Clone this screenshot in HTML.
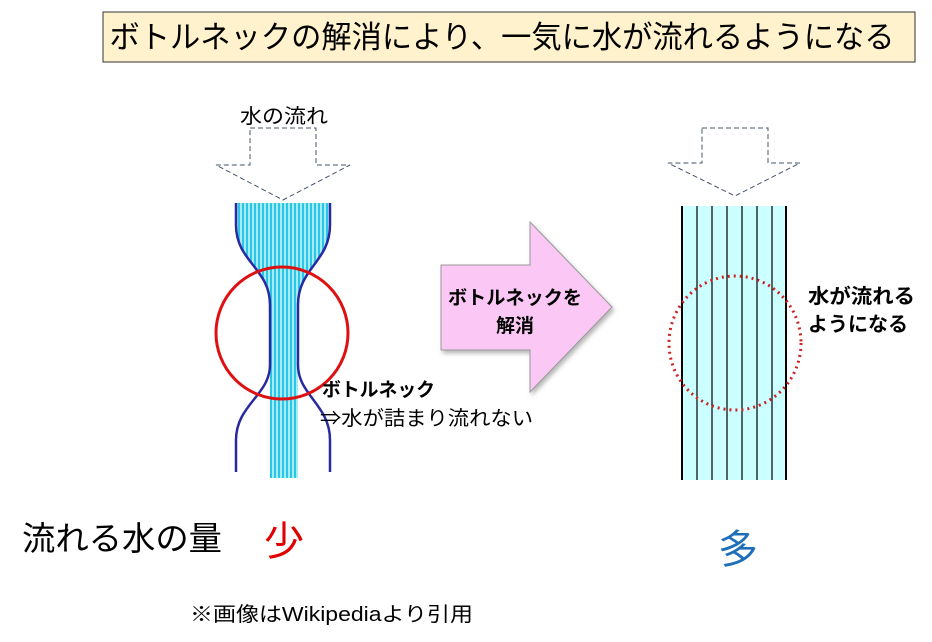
<!DOCTYPE html>
<html><head><meta charset="utf-8"><style>
body{margin:0;background:#fff;width:932px;height:642px;overflow:hidden}
svg{display:block}
text{font-family:"Liberation Sans","Noto Sans CJK JP",sans-serif}
</style></head><body>
<svg width="932" height="642" viewBox="0 0 932 642" xmlns="http://www.w3.org/2000/svg">
<defs>
<pattern id="st" width="4" height="10" patternUnits="userSpaceOnUse">
<rect width="4" height="10" fill="#2bc6e6"/><rect width="2" height="10" fill="#a6ecf7"/>
</pattern>
<filter id="sh" x="-10%" y="-10%" width="130%" height="130%"><feDropShadow dx="2" dy="3" stdDeviation="2" flood-color="#888" flood-opacity="0.6"/></filter>
</defs>
<rect x="103" y="12" width="812" height="50" fill="#fff2cc" stroke="#333" stroke-width="1"/>
<text x="502" y="48" font-size="31" text-anchor="middle" fill="#000" textLength="785" lengthAdjust="spacingAndGlyphs">ボトルネックの解消により、一気に水が流れるようになる</text>

<text x="284" y="123" font-size="20" text-anchor="middle" textLength="88" lengthAdjust="spacingAndGlyphs">水の流れ</text>
<path d="M250,128 H316 V165 H350 L283,200 L216,165 H250 Z" fill="none" stroke="#44546a" stroke-dasharray="5,3" stroke-width="1"/>

<path d="M236,203 H330 V225 C330,262 298,268 298,305 V478 H270 V305 C270,268 236,262 236,225 Z" fill="url(#st)"/>
<path d="M236,203 V225 C236,262 270,268 270,305 V365 C270,395 236,405 236,440 V472" fill="none" stroke="#2a2aa0" stroke-width="2.5"/>
<path d="M330,203 V225 C330,262 298,268 298,305 V365 C298,395 330,405 330,440 V472" fill="none" stroke="#2a2aa0" stroke-width="2.5"/>
<circle cx="282" cy="333" r="66" fill="none" stroke="#dd1111" stroke-width="3"/>
<text x="322" y="396" font-size="19" font-weight="bold" textLength="113" lengthAdjust="spacingAndGlyphs">ボトルネック</text>
<text x="320" y="425" font-size="20" textLength="213" lengthAdjust="spacingAndGlyphs">⇒水が詰まり流れない</text>

<path d="M441,265 H530 V222 L612,307 L530,392 V350 H441 Z" fill="#fbc8f5" stroke="#999" stroke-width="1" filter="url(#sh)"/>
<text x="515" y="304" font-size="19" font-weight="bold" text-anchor="middle" textLength="134" lengthAdjust="spacingAndGlyphs">ボトルネックを</text>
<text x="515" y="332" font-size="19" font-weight="bold" text-anchor="middle">解消</text>

<path d="M702,128 H768 V163 H800 L735,196 L668,163 H702 Z" fill="none" stroke="#44546a" stroke-dasharray="5,3" stroke-width="1"/>
<rect x="682" y="206" width="104" height="274" fill="#ccffff"/>
<g stroke="#000" stroke-width="1.2">
<line x1="682" y1="206" x2="682" y2="480" stroke-width="2"/><line x1="697" y1="206" x2="697" y2="480"/><line x1="712" y1="206" x2="712" y2="480"/><line x1="727" y1="206" x2="727" y2="480"/><line x1="742" y1="206" x2="742" y2="480"/><line x1="757" y1="206" x2="757" y2="480"/><line x1="772" y1="206" x2="772" y2="480"/><line x1="786" y1="206" x2="786" y2="480" stroke-width="2"/>
</g>
<ellipse cx="735" cy="343" rx="66" ry="67" fill="none" stroke="#cc2222" stroke-width="3" stroke-dasharray="2,4"/>
<text x="808" y="303" font-size="20" font-weight="bold" textLength="107" lengthAdjust="spacingAndGlyphs">水が流れる</text>
<text x="808" y="331" font-size="20" font-weight="bold" textLength="100" lengthAdjust="spacingAndGlyphs">ようになる</text>

<text x="22" y="550" font-size="33" textLength="200" lengthAdjust="spacingAndGlyphs">流れる水の量</text>
<text x="264" y="555" font-size="40" fill="#e00000">少</text>
<text x="718" y="563" font-size="40" fill="#1f6fb8">多</text>
<text x="190" y="621" font-size="20" textLength="283" lengthAdjust="spacingAndGlyphs">※画像はWikipediaより引用</text>
</svg>
</body></html>
